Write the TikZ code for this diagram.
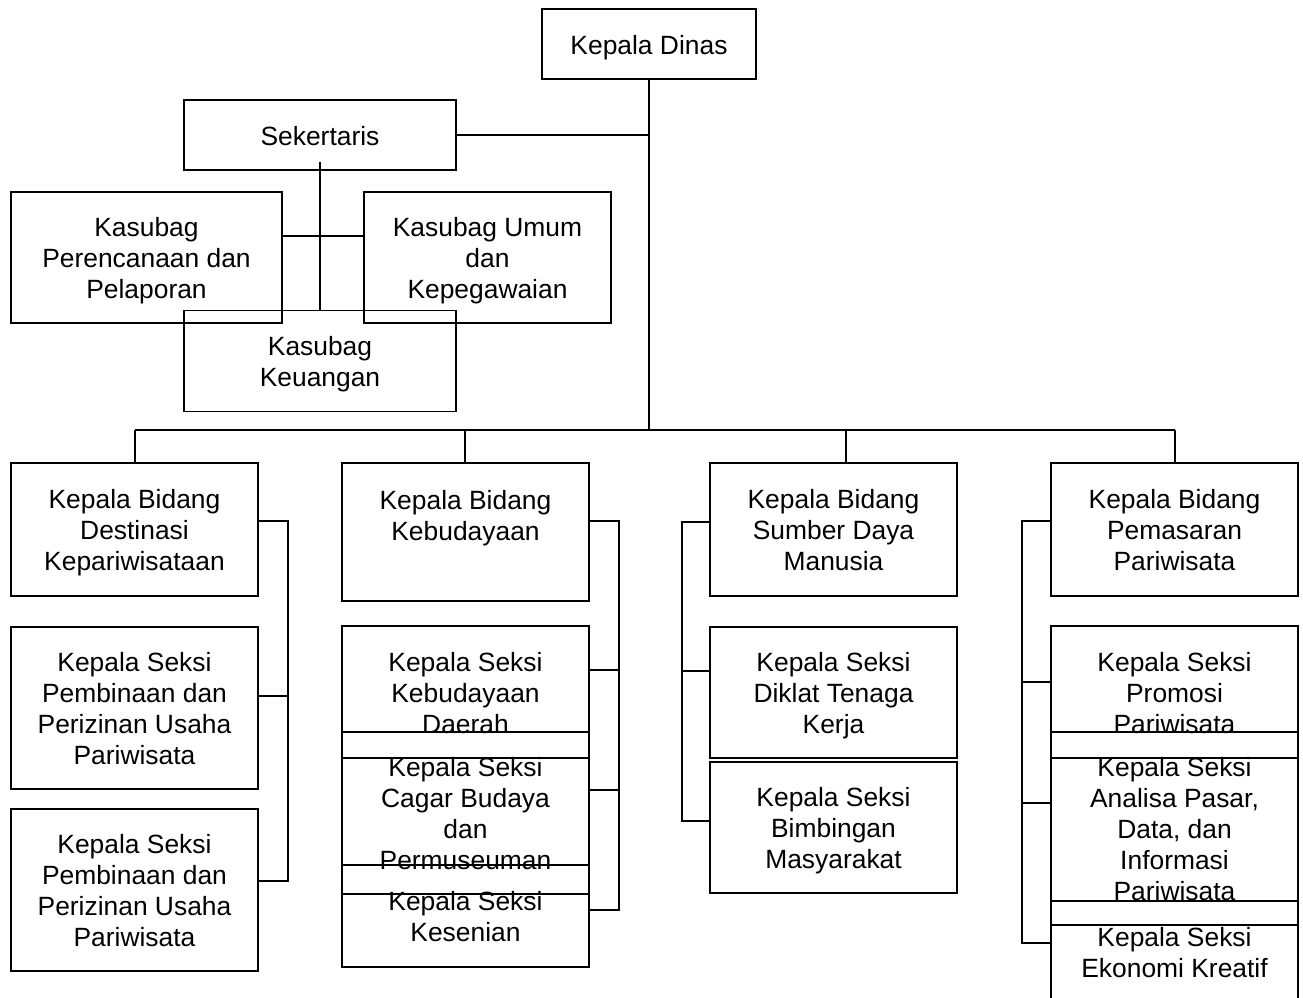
\documentclass[tikz,border=0pt]{standalone}
\usepackage{fontspec}
\setmainfont{Liberation Sans}
\newcommand\tp{\rule{0pt}{26pt}}
\begin{document}
\begin{tikzpicture}[x=1pt,y=-1pt,line width=1.6pt,
  box/.style={draw, inner sep=0pt, outer sep=0pt, align=center,
    font=\fontsize{26.4}{31}\selectfont,
    execute at end node={\rule[-6pt]{0pt}{6pt}}},
  conn/.style={draw, line width=1.6pt}]
\useasboundingbox (0,0) rectangle (1303,997);
\clip (0,0) rectangle (1303,997);
% top
\node[box, minimum width=214, minimum height=70] (dinas) at (649,44) {\tp Kepala Dinas};
\node[box, minimum width=272, minimum height=70] (sek) at (320,135) {\tp Sekertaris};
\node[box, minimum width=271, minimum height=131] (pr) at (146.5,257.5) {\tp Kasubag\\Perencanaan dan\\Pelaporan};
\node[box, minimum width=247, minimum height=131] (um) at (487.5,257.5) {\tp Kasubag Umum\\dan\\Kepegawaian};
\node[box, minimum width=272, minimum height=101] (keu) at (320,361) {\tp Kasubag\\Keuangan};
% bidang
\node[box, minimum width=247, minimum height=133] (kb1) at (134.5,529.5) {\tp Kepala Bidang\\Destinasi\\Kepariwisataan};
\node[box, minimum width=247, minimum height=138] (kb2) at (465.5,532) {\tp Kepala Bidang\\Kebudayaan\rule[-40pt]{0pt}{40pt}};
\node[box, minimum width=247, minimum height=133] (kb3) at (833.5,529.5) {\tp Kepala Bidang\\Sumber Daya\\Manusia};
\node[box, minimum width=247, minimum height=133] (kb4) at (1174.5,529.5) {\tp Kepala Bidang\\Pemasaran\\Pariwisata};
% seksi col 1
\node[box, minimum width=247, minimum height=162] (s1a) at (134.5,708) {\tp Kepala Seksi\\Pembinaan dan\\Perizinan Usaha\\Pariwisata};
\node[box, minimum width=247, minimum height=162] (s1b) at (134.5,890) {\tp Kepala Seksi\\Pembinaan dan\\Perizinan Usaha\\Pariwisata};
% col 2
\node[box, minimum width=247, minimum height=132] (s2a) at (465.5,692) {\tp Kepala Seksi\\Kebudayaan\\Daerah};
\node[box, minimum width=247, minimum height=162] (s2b) at (465.5,813) {\tp Kepala Seksi\\Cagar Budaya\\dan\\Permuseuman};
\node[box, minimum width=247, minimum height=102] (s2c) at (465.5,916) {\tp Kepala Seksi\\Kesenian};
% col 3
\node[box, minimum width=247, minimum height=131] (s3a) at (833.5,692.5) {\tp Kepala Seksi\\Diklat Tenaga\\Kerja};
\node[box, minimum width=247, minimum height=131] (s3b) at (833.5,827.5) {\tp Kepala Seksi\\Bimbingan\\Masyarakat};
% col 4
\node[box, minimum width=247, minimum height=132] (s4a) at (1174.5,692) {\tp Kepala Seksi\\Promosi\\Pariwisata};
\node[box, minimum width=247, minimum height=193] (s4b) at (1174.5,828.5) {\tp Kepala Seksi\\Analisa Pasar,\\Data, dan\\Informasi\\Pariwisata};
\node[box, minimum width=247, minimum height=102] (s4c) at (1174.5,952) {\tp Kepala Seksi\\Ekonomi Kreatif};
% connectors top
\coordinate (jn) at (649,430);
\draw[conn] (dinas.south) -- (jn);
\draw[conn] (sek.east) -- (sek.east -| dinas.south);
\coordinate (sv) at (320,162);
\draw[conn] (sv) -- (keu.north);
\coordinate (sh) at (320,236);
\draw[conn] (sh -| pr.east) -- (sh -| um.west);
% bus
\coordinate (d1) at (135,430);
\coordinate (d2) at (465,430);
\coordinate (d3) at (846,430);
\coordinate (d4) at (1175,430);
\draw[conn] (d1) -- (d4);
\draw[conn] (d1) -- (d1 |- kb1.north);
\draw[conn] (d2) -- (d2 |- kb2.north);
\draw[conn] (d3) -- (d3 |- kb3.north);
\draw[conn] (d4) -- (d4 |- kb4.north);
% col 1 bracket
\coordinate (r1a) at (288,521);
\coordinate (r1b) at (288,696);
\coordinate (r1c) at (288,881);
\draw[conn] (r1a -| kb1.east) -- (r1a) -- (r1c) -- (r1c -| s1b.east);
\draw[conn] (r1b -| s1a.east) -- (r1b);
% col 2 bracket
\coordinate (r2a) at (619,521);
\coordinate (r2b) at (619,670);
\coordinate (r2c) at (619,790);
\coordinate (r2d) at (619,910);
\draw[conn] (r2a -| kb2.east) -- (r2a) -- (r2d) -- (r2d -| s2c.east);
\draw[conn] (r2b -| s2a.east) -- (r2b);
\draw[conn] (r2c -| s2b.east) -- (r2c);
% col 3 bracket
\coordinate (l3a) at (682,522);
\coordinate (l3b) at (682,671);
\coordinate (l3c) at (682,821);
\draw[conn] (l3a -| kb3.west) -- (l3a) -- (l3c) -- (l3c -| s3b.west);
\draw[conn] (l3b -| s3a.west) -- (l3b);
% col 4 bracket
\coordinate (l4a) at (1022,521);
\coordinate (l4b) at (1022,682);
\coordinate (l4c) at (1022,803);
\coordinate (l4d) at (1022,943);
\draw[conn] (l4a -| kb4.west) -- (l4a) -- (l4d) -- (l4d -| s4c.west);
\draw[conn] (l4b -| s4a.west) -- (l4b);
\draw[conn] (l4c -| s4b.west) -- (l4c);
\end{tikzpicture}
\end{document}
